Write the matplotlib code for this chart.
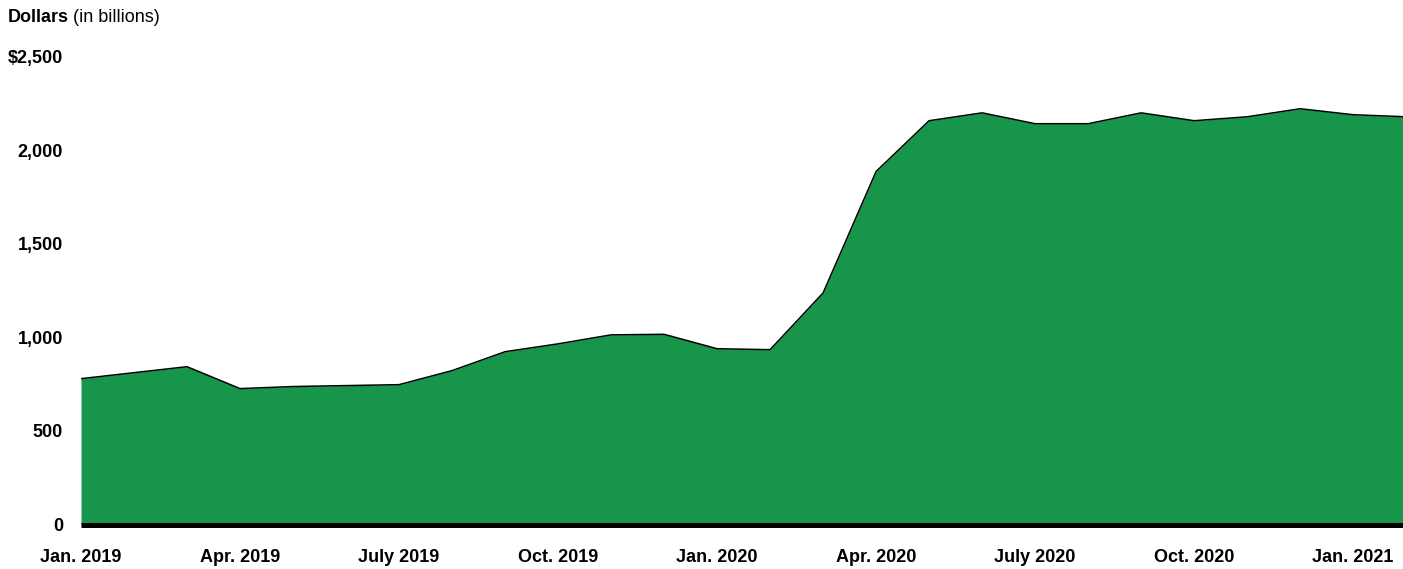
import matplotlib
matplotlib.use("Agg")
import matplotlib.pyplot as plt
import numpy as np

plt.rcParams['font.family'] = ['Liberation Sans', 'DejaVu Sans']

months = ["Jan. 2019", "Feb. 2019", "Mar. 2019", "Apr. 2019", "May 2019", "June 2019",
          "July 2019", "Aug. 2019", "Sep. 2019", "Oct. 2019", "Nov. 2019", "Dec. 2019",
          "Jan. 2020", "Feb. 2020", "Mar. 2020", "Apr. 2020", "May 2020", "June 2020",
          "July 2020", "Aug. 2020", "Sep. 2020", "Oct. 2020", "Nov. 2020", "Dec. 2020",
          "Jan. 2021", "Feb. 2021"]
values = [779, 811, 843, 726, 737, 742, 747, 822, 923, 965, 1013, 1016,
          939, 934, 1237, 1886, 2157, 2199, 2141, 2141, 2199, 2157, 2178, 2221,
          2189, 2178]
tick_idx = [0, 3, 6, 9, 12, 15, 18, 21, 24]
tick_labels = ["Jan. 2019", "Apr. 2019", "July 2019", "Oct. 2019", "Jan. 2020",
               "Apr. 2020", "July 2020", "Oct. 2020", "Jan. 2021"]
y_ticks = [0, 500, 1000, 1500, 2000, 2500]
y_labels = ["0", "500", "1,000", "1,500", "2,000", "$2,500"]

W, H = 1403, 569
fig = plt.figure(figsize=(W / 100, H / 100), dpi=100)
left, right = 81, 1403
bottom_px, top_px = 524.5, 56.5
ax = fig.add_axes([left / W, (H - bottom_px) / H, (right - left) / W, (bottom_px - top_px) / H])

x = np.arange(len(values))
ax.fill_between(x, 0, values, color="#17954b", linewidth=0, zorder=1)
ax.plot(x, values, color="black", linewidth=1.1, zorder=2)
ax.axhline(0, color="black", linewidth=3.6, zorder=3, clip_on=False, solid_capstyle="butt")

ax.set_xlim(0, 24.94)
ax.set_ylim(0, 2500)
for s in ax.spines.values():
    s.set_visible(False)
ax.set_xticks(tick_idx)
ax.set_xticklabels(tick_labels, fontsize=13, fontweight="bold")
ax.set_yticks(y_ticks)
ax.set_yticklabels(y_labels, fontsize=13, fontweight="bold")
ax.tick_params(axis="x", length=0, pad=18)
ax.tick_params(axis="y", length=0, pad=13)
ax.set_facecolor("white")

t1 = fig.text(8 / W, 1 - 17 / H, "Dollars", fontsize=13, fontweight="bold", va="center", ha="left")
fig.canvas.draw()
bb = t1.get_window_extent()
fig.text(bb.x1 / W + 4 / W, 1 - 17 / H, "(in billions)", fontsize=13, va="center", ha="left")

fig.savefig("out.png", dpi=100)
